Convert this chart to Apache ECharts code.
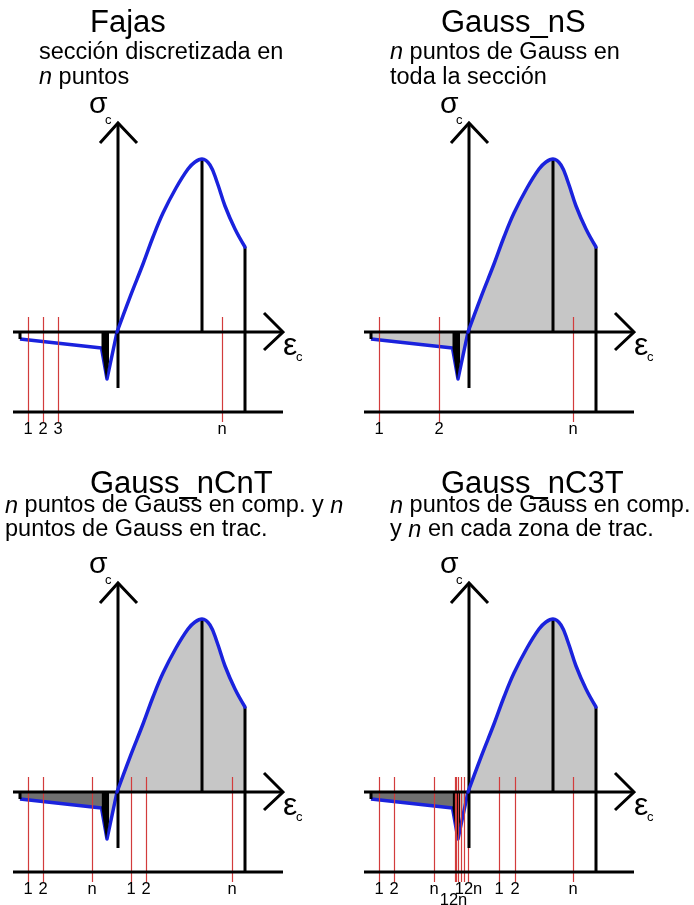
<!DOCTYPE html>
<html>
<head>
<meta charset="utf-8">
<script src="https://cdn.jsdelivr.net/npm/echarts@6/dist/echarts.min.js"></script>
<style>
  html, body { margin: 0; padding: 0; background: #ffffff; }
  #chart { width: 694px; height: 905px; }
</style>
</head>
<body>
<div id="chart"></div>
<script>
// Schematic concrete law: strain (x) vs stress (y), arbitrary units.
const tensionBranch = [[-98, -7], [-16.5, -16], [-11, -47], [-1, 0]];
const tensionTail = [[-98, -7], [-16.5, -16]];          // long softening tail
const tensionTip = [[-16.5, -16], [-11, -47], [-1, 0]]; // around the tensile strength
const softeningWedge = [[-16.5, -16], [-12, -47], [-9, -30]];
const compressionBranch = [[-1, 0], [12, 35], [25, 68], [35, 95], [45, 119], [58, 144],
  [70, 163], [77, 170], [84, 173], [92, 167], [99, 150], [107, 126], [117, 103], [127, 85]];
const peakPoint = [84, 173];
const ultimatePoint = [127, 85];
const tailStart = [-98, -7];

// Strain axis, stress axis and lower reference line
const strainRange = [-105, 165];
const stressAxisRange = [-56, 209];
const baseStress = -80;
const pointLineRange = [15, -90];

// Integration points of each method and their tick labels
const fajasX = [-90, -75, -60, 104];
const fajasLabels = ['1', '2', '3', 'n'];
const gaussNSX = [-90, -30, 104];
const gaussNSLabels = ['1', '2', 'n'];
const gaussNCnTX = [-90, -75, -26, 13, 28, 114];
const gaussNCnTLabels = ['1', '2', 'n', '1', '2', 'n'];
const gaussNC3TX = [-90, -75, -35, -14, -12.5, -11, -7.5, -5, -0.5, 30, 46, 104];
const gaussNC3TLabels = ['1', '2', 'n', '', '', '', '', '', '', '1', '2', 'n'];
const gaussNC3TGroupX = [-15.5, -0.5];
const gaussNC3TGroupLabels = ['12n', '12n'];

const titles = ['Fajas', 'Gauss_nS', 'Gauss_nCnT', 'Gauss_nC3T'];
const subtitles = [
  'sección discretizada en\n{i|n} puntos',
  '{i|n} puntos de Gauss en\ntoda la sección',
  '{i|n} puntos de Gauss en comp. y {i|n}\npuntos de Gauss en trac.',
  '{i|n} puntos de Gauss en comp.\ny {i|n} en cada zona de trac.'
];

const FONT = "'Liberation Sans', Arial, Helvetica, sans-serif";
const BLUE = '#1a22dd';
const LIGHT = '#c6c6c6';
const DARK = '#707070';
const RED = '#d23c3c';

const panels = [
  { col: 0, row: 0, xs: fajasX, labels: fajasLabels, fill: 'none', subLeft: 39 },
  { col: 1, row: 0, xs: gaussNSX, labels: gaussNSLabels, fill: 'light', subLeft: 39 },
  { col: 0, row: 1, xs: gaussNCnTX, labels: gaussNCnTLabels, fill: 'dark', subLeft: 5 },
  { col: 1, row: 1, xs: gaussNC3TX, labels: gaussNC3TLabels, fill: 'dark', subLeft: 39,
    groupX: gaussNC3TGroupX, groupLabels: gaussNC3TGroupLabels }
];

const COL_STEP = 351, ROW_STEP = 460;
const SMOOTH = 0.4;

const grid = [], xAxis = [], yAxis = [], series = [], title = [];

function txt(text, left, top, style, rich) {
  title.push({
    text: text, left: left, top: top, padding: 0, itemGap: 0,
    textStyle: Object.assign({ fontFamily: FONT, color: '#000', fontWeight: 'normal' }, style, rich ? { rich: rich } : {})
  });
}

function seg(a, b) { return { coords: [a, b] }; }

panels.forEach(function (p, i) {
  const ox = p.col * COL_STEP, oy = p.row * ROW_STEP;
  grid.push({ left: 13 + ox, top: 110 + oy, width: 270, height: 334 });
  xAxis.push({ type: 'value', gridIndex: i, min: strainRange[0], max: strainRange[1], show: false });
  yAxis.push({ type: 'value', gridIndex: i, min: -112, max: 222, show: false });

  const ax = { xAxisIndex: i, yAxisIndex: i, silent: true, animation: false };

  // shaded areas under the law
  if (p.fill !== 'none') {
    series.push(Object.assign({
      type: 'line', data: compressionBranch, smooth: SMOOTH, symbol: 'none',
      lineStyle: { width: 0 }, areaStyle: { color: LIGHT, opacity: 1 }, z: 1
    }, ax));
    if (p.fill === 'light') {
      series.push(Object.assign({
        type: 'line', data: tensionBranch, symbol: 'none',
        lineStyle: { width: 0 }, areaStyle: { color: LIGHT, opacity: 1 }, z: 1
      }, ax));
    } else {
      series.push(Object.assign({
        type: 'line', data: tensionTail, symbol: 'none',
        lineStyle: { width: 0 }, areaStyle: { color: DARK, opacity: 1 }, z: 1
      }, ax));
      series.push(Object.assign({
        type: 'line', data: tensionTip, symbol: 'none',
        lineStyle: { width: 0 }, areaStyle: { color: LIGHT, opacity: 1 }, z: 1
      }, ax));
    }
  }

  // blue stress-strain law
  series.push(Object.assign({
    type: 'line', data: tensionBranch, symbol: 'none',
    lineStyle: { color: BLUE, width: 3.5, join: 'round' }, z: 3
  }, ax));
  series.push(Object.assign({
    type: 'line', data: compressionBranch, smooth: SMOOTH, symbol: 'none',
    lineStyle: { color: BLUE, width: 3.5, cap: 'round' }, z: 6
  }, ax));

  // black wedge at the tensile peak
  series.push(Object.assign({
    type: 'line', data: softeningWedge, symbol: 'none',
    lineStyle: { width: 0 }, areaStyle: { color: '#000', opacity: 1 }, z: 4
  }, ax));

  // integration point lines
  series.push(Object.assign({
    type: 'lines', coordinateSystem: 'cartesian2d',
    data: p.xs.map(function (x) { return seg([x, pointLineRange[0]], [x, pointLineRange[1]]); }),
    lineStyle: { color: RED, width: 1.2, opacity: 1 }, z: 5
  }, ax));

  // axes, arrows and reference lines
  const s0 = strainRange[0], s1 = strainRange[1];
  series.push(Object.assign({
    type: 'lines', coordinateSystem: 'cartesian2d', polyline: true,
    data: [
      { coords: [[s0, 0], [s1, 0]] },
      { coords: [[s1 - 19, 19], [s1, 0], [s1 - 19, -18]] },
      { coords: [[0, stressAxisRange[0]], [0, stressAxisRange[1]]] },
      { coords: [[-18, stressAxisRange[1] - 20], [0, stressAxisRange[1]], [19, stressAxisRange[1] - 20]] },
      { coords: [[s0, baseStress], [s1, baseStress]] },
      { coords: [[peakPoint[0], 0], peakPoint] },
      { coords: [ultimatePoint, [ultimatePoint[0], baseStress]] },
      { coords: [[tailStart[0], 0], tailStart] }
    ],
    lineStyle: { color: '#000', width: 3, opacity: 1, join: 'miter' }, z: 5.5
  }, ax));

  // point labels
  const lab = p.xs.map(function (x, k) { return { value: [x, -97], name: p.labels[k] }; })
    .filter(function (d) { return d.name !== ''; });
  if (p.groupX) {
    lab.push({ value: [p.groupX[0], -108], name: p.groupLabels[0] });
    lab.push({ value: [p.groupX[1], -97], name: p.groupLabels[1] });
  }
  series.push(Object.assign({
    type: 'scatter', data: lab, symbol: 'circle', symbolSize: 1, clip: false,
    itemStyle: { color: 'rgba(255,255,255,0)', opacity: 1 },
    label: { show: true, position: 'inside', formatter: '{b}', color: '#000', opacity: 1,
      textBorderWidth: 0, fontFamily: FONT, fontSize: 16.5 }, z: 7
  }, ax));

  // texts
  const tTop = p.row === 0 ? 8 : 9;
  txt(titles[i], 90 + ox, tTop + oy, { fontSize: 31 });
  const lh = p.row === 0 ? 25 : 24;
  const sTop = p.row === 0 ? 40 : 34;
  txt(subtitles[i], p.subLeft + ox, sTop + oy, { fontSize: 23.5, lineHeight: lh },
    { i: { fontStyle: 'italic', fontSize: 23.5, lineHeight: lh, fontFamily: FONT, color: '#000' } });
  txt('σ', 89 + ox, 90 + oy, { fontSize: 30 });
  txt('c', 105 + ox, 114 + oy, { fontSize: 13 });
  txt('ε', 283 + ox, 330 + oy, { fontSize: 32 });
  txt('c', 296 + ox, 351 + oy, { fontSize: 13 });
});

const chart = echarts.init(document.getElementById('chart'), null, { renderer: 'canvas' });
chart.setOption({
  animation: false,
  backgroundColor: '#ffffff',
  title: title,
  grid: grid,
  xAxis: xAxis,
  yAxis: yAxis,
  series: series
});
</script>
</body>
</html>
